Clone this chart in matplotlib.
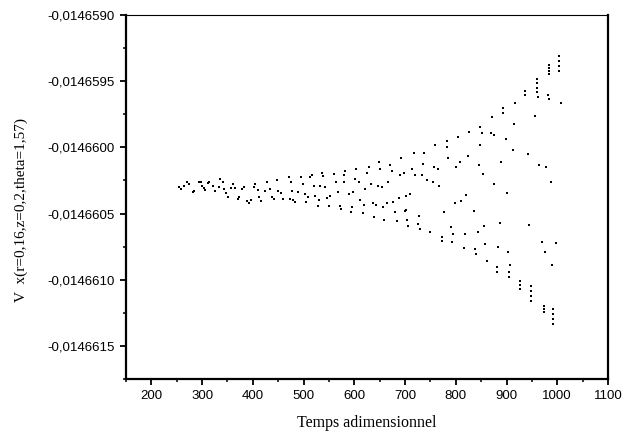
import matplotlib
matplotlib.use("Agg")
from matplotlib import pyplot as plt
from matplotlib.ticker import MultipleLocator, FuncFormatter

# temps adimensionnel / valeur
temps = [
    255, 259, 265, 271, 275, 283, 285, 293, 297, 299, 303, 306, 312, 314, 322, 326,
    334, 336, 342, 344, 348, 352, 356, 360, 364, 370, 373, 379, 383, 389, 393, 397,
    403, 405, 411, 413, 417, 423, 427, 433, 437, 441, 448, 450, 456, 460, 472, 474,
    476, 478, 480, 484, 490, 494, 498, 502, 504, 508, 513, 517, 521, 523, 529, 531,
    533, 537, 539, 543, 547, 551, 553, 559, 563, 567, 571, 573, 579, 582, 580, 590,
    594, 596, 598, 604, 602, 610, 612, 618, 619, 622, 628, 626, 632, 636, 638, 642,
    646, 649, 651, 655, 657, 659, 665, 667, 671, 675, 677, 681, 685, 689, 691, 693,
    697, 699, 701, 702, 705, 703, 709, 713, 718, 720, 728, 726, 729, 734, 738, 736,
    744, 750, 756, 758, 760, 764, 766, 772, 772, 776, 782, 783, 785, 791, 793, 795,
    799, 801, 805, 809, 811, 817, 819, 821, 825, 827, 835, 837, 839, 843, 845, 847,
    848, 852, 854, 856, 858, 862, 870, 872, 876, 876, 882, 882, 884, 888, 890, 894,
    894, 898, 900, 902, 904, 904, 906, 916, 914, 912, 927, 927, 927, 937, 937, 943,
    945, 949, 949, 949, 949, 961, 961, 961, 961, 963, 957, 965, 969, 973, 973, 973,
    977, 975, 981, 984, 983, 983, 983, 983, 988, 990, 992, 992, 992, 992, 998, 1004,
    1004, 1004, 1004, 1008,
]
vx = [
    -0.014660303, -0.014660318, -0.014660295, -0.014660258, -0.014660280, -0.014660340,
    -0.014660333, -0.014660265, -0.014660258, -0.014660295, -0.014660310, -0.014660325,
    -0.014660273, -0.014660258, -0.014660295, -0.014660333, -0.014660303, -0.014660242,
    -0.014660258, -0.014660318, -0.014660348, -0.014660378, -0.014660310, -0.014660280,
    -0.014660310, -0.014660393, -0.014660378, -0.014660318, -0.014660303, -0.014660408,
    -0.014660423, -0.014660401, -0.014660303, -0.014660280, -0.014660325, -0.014660378,
    -0.014660408, -0.014660333, -0.014660258, -0.014660318, -0.014660378, -0.014660393,
    -0.014660250, -0.014660333, -0.014660348, -0.014660393, -0.014660227, -0.014660393,
    -0.014660265, -0.014660333, -0.014660401, -0.014660416, -0.014660340, -0.014660227,
    -0.014660280, -0.014660355, -0.014660416, -0.014660378, -0.014660227, -0.014660212,
    -0.014660295, -0.014660370, -0.014660446, -0.014660401, -0.014660295, -0.014660197,
    -0.014660220, -0.014660303, -0.014660386, -0.014660446, -0.014660370, -0.014660205,
    -0.014660258, -0.014660340, -0.014660446, -0.014660468, -0.014660212, -0.014660175,
    -0.014660265, -0.014660355, -0.014660491, -0.014660453, -0.014660340, -0.014660167,
    -0.014660242, -0.014660265, -0.014660401, -0.014660498, -0.014660438, -0.014660318,
    -0.014660152, -0.014660190, -0.014660280, -0.014660423, -0.014660529, -0.014660438,
    -0.014660295, -0.014660114, -0.014660167, -0.014660303, -0.014660453, -0.014660551,
    -0.014660423, -0.014660265, -0.014660130, -0.014660182, -0.014660416, -0.014660491,
    -0.014660559, -0.014660386, -0.014660212, -0.014660077, -0.014660190, -0.014660483,
    -0.014660370, -0.014660476, -0.014660596, -0.014660551, -0.014660355, -0.014660167,
    -0.014660039, -0.014660212, -0.014660521, -0.014660581, -0.014660619, -0.014660212,
    -0.014660039, -0.014660122, -0.014660250, -0.014660642, -0.014660265, -0.014660145,
    -0.014659979, -0.014660167, -0.014660295, -0.014660679, -0.014660709, -0.014660491,
    -0.014659994, -0.014659949, -0.014660077, -0.014660604, -0.014660717, -0.014660657,
    -0.014660423, -0.014660145, -0.014659919, -0.014660114, -0.014660408, -0.014660762,
    -0.014660657, -0.014660363, -0.014660062, -0.014659881, -0.014660483, -0.014660770,
    -0.014660807, -0.014660642, -0.014660137, -0.014659979, -0.014659843, -0.014659889,
    -0.014660205, -0.014660596, -0.014660732, -0.014660860, -0.014659889, -0.014659768,
    -0.014659904, -0.014660280, -0.014660905, -0.014660943, -0.014660755, -0.014660574,
    -0.014660114, -0.014659738, -0.014659700, -0.014659934, -0.014660348, -0.014660792,
    -0.014660943, -0.014660980, -0.014660890, -0.014659663, -0.014659821, -0.014660017,
    -0.014661011, -0.014661041, -0.014661071, -0.014659572, -0.014659602, -0.014660047,
    -0.014660589, -0.014661048, -0.014661086, -0.014661124, -0.014661161, -0.014659482,
    -0.014659512, -0.014659550, -0.014659580, -0.014659617, -0.014659761, -0.014660130,
    -0.014660717, -0.014661199, -0.014661221, -0.014661244, -0.014660145, -0.014660792,
    -0.014659602, -0.014659633, -0.014659377, -0.014659399, -0.014659422, -0.014659444,
    -0.014660258, -0.014660890, -0.014661221, -0.014661259, -0.014661297, -0.014661334,
    -0.014660724, -0.014659309, -0.014659346, -0.014659384, -0.014659422, -0.014659663,
]

fig = plt.figure(figsize=(6.29, 4.38), dpi=100)
ax = fig.add_axes([0.2003, 0.1347, 0.7663, 0.8311])

ax.scatter(temps, vx, s=2.2, marker="s", color="black", linewidths=0)

ax.set_xlim(150, 1100)
ax.set_ylim(-0.01466175, -0.0146590)
ax.xaxis.set_major_locator(MultipleLocator(100))
ax.xaxis.set_minor_locator(MultipleLocator(50))
ax.yaxis.set_major_locator(MultipleLocator(0.0000005))
ax.yaxis.set_minor_locator(MultipleLocator(0.00000025))
ax.yaxis.set_major_formatter(FuncFormatter(lambda v, p: f"{v:.7f}".replace(".", ",")))

for s in ["left", "bottom", "right"]:
    ax.spines[s].set_linewidth(1.6)
ax.spines["top"].set_linewidth(0.8)

ax.tick_params(which="major", direction="out", length=4, width=1.3,
               labelsize=9.5, pad=4)
ax.tick_params(which="minor", direction="out", length=2.5, width=1.1)
for lab in ax.get_xticklabels() + ax.get_yticklabels():
    lab.set_family("Liberation Sans")

ax.set_xlabel("Temps adimensionnel", family="Liberation Serif", fontsize=11.5, labelpad=9)
ax.set_ylabel("V  x(r=0,16,z=0,2,theta=1,57)", family="Liberation Serif", fontsize=11)
ax.yaxis.set_label_coords(-0.203, 0.465)

fig.savefig("out.png", dpi=100)
